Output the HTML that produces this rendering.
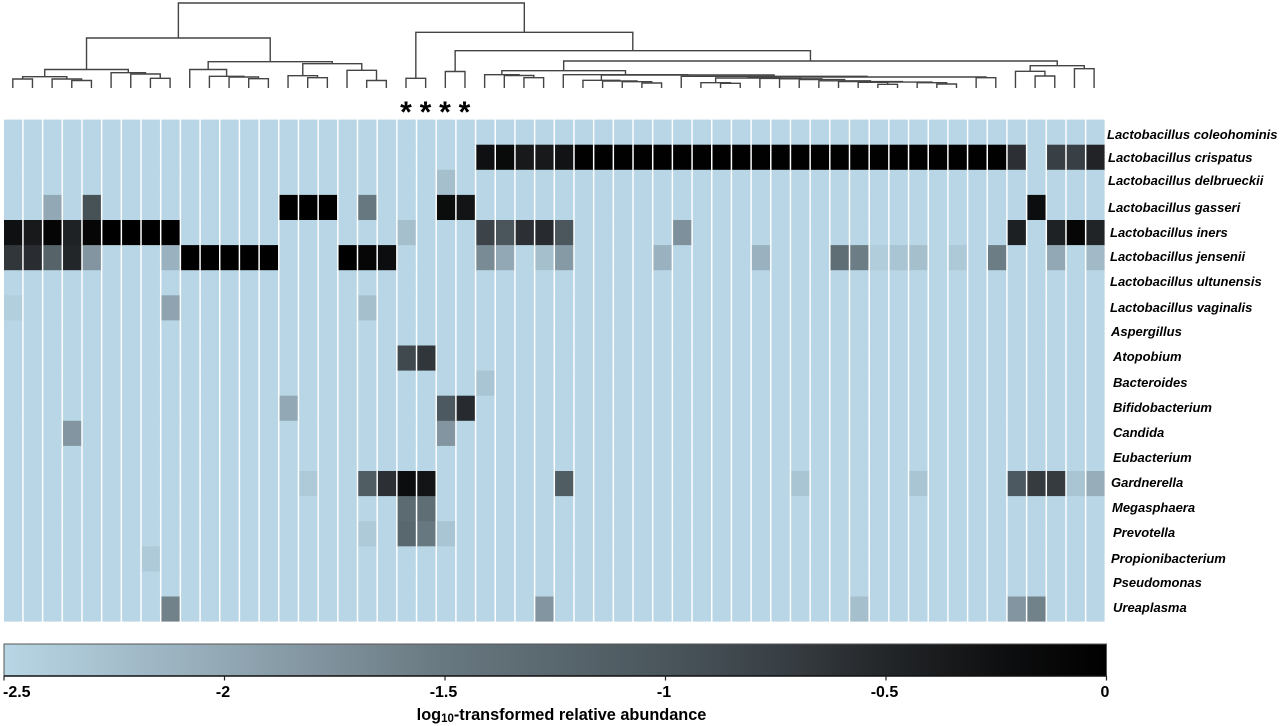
<!DOCTYPE html>
<html lang="en">
<head>
<meta charset="utf-8">
<title>Vaginal microbiome heatmap</title>
<style>
  html, body { margin: 0; padding: 0; background: #fff; }
  body { width: 1280px; height: 726px; overflow: hidden; }
  svg { display: block; }
  text { font-family: "Liberation Sans", Arial, sans-serif; fill: #000; }
  .species { font-size: 13px; font-weight: bold; font-style: italic; }
  .tick { font-size: 16px; font-weight: bold; }
  .title { font-size: 16.3px; font-weight: bold; }
  .star { font-size: 30px; font-weight: bold; }
</style>
</head>
<body>
<svg id="chart" xmlns="http://www.w3.org/2000/svg" width="1280" height="726" viewBox="0 0 1280 726">
  <defs>
    <linearGradient id="cbar" x1="0" x2="1" y1="0" y2="0"></linearGradient>
  </defs>
  <g id="dendrogram"></g>
  <g>
    <text class="star" x="406" y="122" text-anchor="middle">*</text>
    <text class="star" x="425.5" y="122" text-anchor="middle">*</text>
    <text class="star" x="445" y="122" text-anchor="middle">*</text>
    <text class="star" x="464.5" y="122" text-anchor="middle">*</text>
  </g>
  <g id="heatmap"></g>
  <g>
    <text class="species" x="1107" y="139">Lactobacillus coleohominis</text>
    <text class="species" x="1108" y="162">Lactobacillus crispatus</text>
    <text class="species" x="1108" y="185">Lactobacillus delbrueckii</text>
    <text class="species" x="1108" y="212">Lactobacillus gasseri</text>
    <text class="species" x="1110" y="237">Lactobacillus iners</text>
    <text class="species" x="1110" y="261">Lactobacillus jensenii</text>
    <text class="species" x="1110" y="286">Lactobacillus ultunensis</text>
    <text class="species" x="1110" y="312">Lactobacillus vaginalis</text>
    <text class="species" x="1111" y="336">Aspergillus</text>
    <text class="species" x="1113" y="361">Atopobium</text>
    <text class="species" x="1113" y="387">Bacteroides</text>
    <text class="species" x="1113" y="412">Bifidobacterium</text>
    <text class="species" x="1113" y="437">Candida</text>
    <text class="species" x="1113" y="462">Eubacterium</text>
    <text class="species" x="1111" y="487">Gardnerella</text>
    <text class="species" x="1112" y="512">Megasphaera</text>
    <text class="species" x="1113" y="537">Prevotella</text>
    <text class="species" x="1111" y="563">Propionibacterium</text>
    <text class="species" x="1113" y="587">Pseudomonas</text>
    <text class="species" x="1113" y="612">Ureaplasma</text>
  </g>
  <g id="colorbar"></g>
  <text class="title" x="561.5" y="720" text-anchor="middle">log<tspan font-size="11.5" dy="2">10</tspan><tspan dy="-2">-transformed relative abundance</tspan></text>
</svg>
<script>
// ---- heatmap data: [sample column, log10 abundance]; unlisted samples sit at the floor value ----
const sampleCount = 56;
const floorValue = -2.5;
const coleohominis = [];
const crispatus = [[24,-0.25],[25,-0.15],[26,-0.35],[27,-0.35],[28,-0.28],[29,-0.02],[30,-0.02],[31,-0.02],[32,-0.02],[33,-0.02],[34,-0.02],[35,-0.02],[36,-0.02],[37,-0.02],[38,-0.02],[39,-0.02],[40,-0.02],[41,-0.02],[42,-0.02],[43,-0.02],[44,-0.02],[45,-0.02],[46,-0.02],[47,-0.02],[48,-0.02],[49,-0.02],[50,-0.02],[51,-0.6],[53,-0.75],[54,-0.75],[55,-0.47]];
const delbrueckii = [[22,-2.25]];
const gasseri = [[2,-2.0],[4,-0.95],[14,0],[15,0],[16,0],[18,-1.5],[22,-0.18],[23,-0.3],[52,-0.2]];
const iners = [[0,-0.25],[1,-0.35],[2,-0.08],[3,-0.45],[4,-0.1],[5,0],[6,0],[7,0],[8,0],[20,-2.25],[24,-0.8],[25,-1.0],[26,-0.6],[27,-0.55],[28,-1.02],[34,-1.75],[51,-0.43],[53,-0.45],[54,-0.1],[55,-0.48]];
const jensenii = [[0,-0.65],[1,-0.57],[2,-1.2],[3,-0.5],[4,-1.8],[8,-2.1],[9,0],[10,0],[11,0],[12,0],[13,0],[17,0],[18,-0.1],[19,-0.2],[24,-1.7],[25,-2.0],[27,-2.25],[28,-1.85],[33,-2.1],[38,-2.1],[42,-1.35],[43,-1.55],[44,-2.4],[45,-2.3],[46,-2.25],[48,-2.35],[50,-1.55],[53,-2.0],[55,-2.2]];
const ultunensis = [];
const vaginalis = [[0,-2.42],[8,-1.95],[18,-2.25]];
const aspergillus = [];
const atopobium = [[20,-0.85],[21,-0.65]];
const bacteroides = [[24,-2.3]];
const bifidobacterium = [[14,-2.0],[22,-1.05],[23,-0.55]];
const candida = [[3,-1.8],[22,-1.8]];
const eubacterium = [];
const gardnerella = [[15,-2.37],[18,-1.1],[19,-0.6],[20,-0.2],[21,-0.3],[28,-1.1],[40,-2.3],[46,-2.3],[51,-1.05],[52,-0.7],[53,-0.7],[54,-2.3],[55,-2.05]];
const megasphaera = [[20,-1.3],[21,-1.35]];
const prevotella = [[18,-2.37],[20,-1.25],[21,-1.5],[22,-2.3]];
const propionibacterium = [[7,-2.37]];
const pseudomonas = [];
const ureaplasma = [[8,-1.6],[27,-1.8],[43,-2.25],[51,-1.8],[52,-1.6]];
const speciesRows = [coleohominis, crispatus, delbrueckii, gasseri, iners, jensenii, ultunensis, vaginalis, aspergillus, atopobium, bacteroides, bifidobacterium, candida, eubacterium, gardnerella, megasphaera, prevotella, propionibacterium, pseudomonas, ureaplasma];

// ---- colour scale ----
const scaleValues = [-2.5, -2, -1.5, -1, -0.75, -0.5, -0.25, 0];
const scaleColors = [[184,214,229],[147,168,181],[104,120,128],[74,86,92],[57,64,69],[35,38,41],[15,16,17],[0,0,0]];
const colorbarTicks = [-2.5, -2, -1.5, -1, -0.5, 0];

// ---- dendrogram: [merge height, left child, right child]; integers are sample columns ----
const clusterA = [18.5, [11.3, [9, 0, 1], [9, 2, [7.5, 3, 4]]], [15.3, 5, [14, 6, [9.7, 7, 8]]]];
const clusterB = [26.3, [18.5, 9, [11.7, 10, [11, 11, [9.3, 12, 13]]]], [24.3, [12.3, 14, [10.3, 15, 16]], [17.7, 17, [7.5, 18, 19]]]];
const clusterStairs = [9.6, 38, [9.2, 39, [8.4, 40, [7.2, 41, [6.4, 42, [5.9, [5.7, 43, [3.7, 44, 45]], [5.3, 46, [4, 47, 48]]]]]]]];
const clusterM = [11, [10, [5.3, 35, [4.7, 36, 37]], clusterStairs], [10.3, 49, 50]];
const clusterJ = [7.7, 29, [7, 30, [6.3, 31, [5, 32, 33]]]];
const clusterH = [13.3, 24, [12.5, 25, [10.3, 26, 27]]];
const clusterI = [13.3, 28, [13, clusterJ, [11.7, 34, clusterM]]];
const clusterN = [22.3, [16.7, 51, [12, 52, 53]], [19.3, 54, 55]];
const clusterG = [27, [17.3, clusterH, clusterI], clusterN];
const clusterRight = [55.7, [9.7, 20, 21], [37.3, [16.5, 22, 23], clusterG]];
const dendrogramRoot = [85, [50, clusterA, clusterB], clusterRight];

const SVG_NS = 'http://www.w3.org/2000/svg';

// ---- axis functions ----
function columnX(i) { return 4 + 19.68 * i; }
function rowY(j) { return 119.6 + 25.1 * j; }
function leafX(i) { return 12.8 + 19.66 * i; }
function heightY(d) { return 88 - d; }
function valueX(v) { return 4 + (v - floorValue) / (0 - floorValue) * 1102.5; }

function valueColor(v) {
  const clamped = Math.max(scaleValues[0], Math.min(scaleValues[scaleValues.length - 1], v));
  let k = 0;
  while (k < scaleValues.length - 2 && clamped > scaleValues[k + 1]) { k++; }
  const t = (clamped - scaleValues[k]) / (scaleValues[k + 1] - scaleValues[k]);
  const c = scaleColors[k].map(function (a, n) { return Math.round(a + (scaleColors[k + 1][n] - a) * t); });
  return 'rgb(' + c.join(',') + ')';
}

// ---- heatmap ----
const heatmapGroup = document.getElementById('heatmap');
speciesRows.forEach(function (row, j) {
  const lookup = new Map(row);
  for (let i = 0; i < sampleCount; i++) {
    const value = lookup.has(i) ? lookup.get(i) : floorValue;
    const cell = document.createElementNS(SVG_NS, 'rect');
    
    
    cell.setAttribute('x', columnX(i));
    cell.setAttribute('y', rowY(j));
    cell.setAttribute('width', 18.2);
    cell.setAttribute('height', j < speciesRows.length - 1 ? 25.5 : 25.1);
    cell.setAttribute('fill', valueColor(value));
    heatmapGroup.appendChild(cell);
  }
});

// ---- dendrogram ----
const dendroGroup = document.getElementById('dendrogram');
function drawNode(node) {
  if (typeof node === 'number') {
    return { x: leafX(node), y: heightY(0) };
  }
  const a = drawNode(node[1]);
  const b = drawNode(node[2]);
  const y = heightY(node[0]);
  const branch = document.createElementNS(SVG_NS, 'path');
  
  
  branch.setAttribute('d', 'M' + a.x + ' ' + a.y + 'V' + y + 'H' + b.x + 'V' + b.y);
  branch.setAttribute('fill', 'none');
  branch.setAttribute('stroke', '#444');
  branch.setAttribute('stroke-width', '1.4');
  dendroGroup.appendChild(branch);
  return { x: (a.x + b.x) / 2, y: y };
}
drawNode(dendrogramRoot);

// ---- colour bar ----
const gradient = document.getElementById('cbar');
scaleValues.forEach(function (v) {
  const stop = document.createElementNS(SVG_NS, 'stop');
  stop.setAttribute('offset', (v - floorValue) / (0 - floorValue));
  stop.setAttribute('stop-color', valueColor(v));
  gradient.appendChild(stop);
});

const colorbarGroup = document.getElementById('colorbar');
const bar = document.createElementNS(SVG_NS, 'rect');


bar.setAttribute('x', valueX(floorValue));
bar.setAttribute('y', 644);
bar.setAttribute('width', valueX(0) - valueX(floorValue));
bar.setAttribute('height', 32);
bar.setAttribute('fill', 'url(#cbar)');
bar.setAttribute('stroke', '#555');
bar.setAttribute('stroke-width', '1');
colorbarGroup.appendChild(bar);

const baseLine = document.createElementNS(SVG_NS, 'line');


baseLine.setAttribute('x1', valueX(floorValue));
baseLine.setAttribute('x2', valueX(0));
baseLine.setAttribute('y1', 676);
baseLine.setAttribute('y2', 676);
baseLine.setAttribute('stroke', '#111');
baseLine.setAttribute('stroke-width', '1.4');
colorbarGroup.appendChild(baseLine);

colorbarTicks.forEach(function (v, n) {
  const tick = document.createElementNS(SVG_NS, 'line');
  
  
  tick.setAttribute('x1', valueX(v));
  tick.setAttribute('x2', valueX(v));
  tick.setAttribute('y1', 676);
  tick.setAttribute('y2', 680.5);
  tick.setAttribute('stroke', '#222');
  tick.setAttribute('stroke-width', '1.2');
  colorbarGroup.appendChild(tick);

  const label = document.createElementNS(SVG_NS, 'text');
  
  
  label.setAttribute('class', 'tick');
  label.setAttribute('y', 697);
  if (n === 0) {
    label.setAttribute('x', valueX(v) - 1);
    label.setAttribute('text-anchor', 'start');
  } else {
    label.setAttribute('x', valueX(v) - 1.5);
    label.setAttribute('text-anchor', 'middle');
  }
  label.textContent = String(v);
  colorbarGroup.appendChild(label);
});
</script>
</body>
</html>
